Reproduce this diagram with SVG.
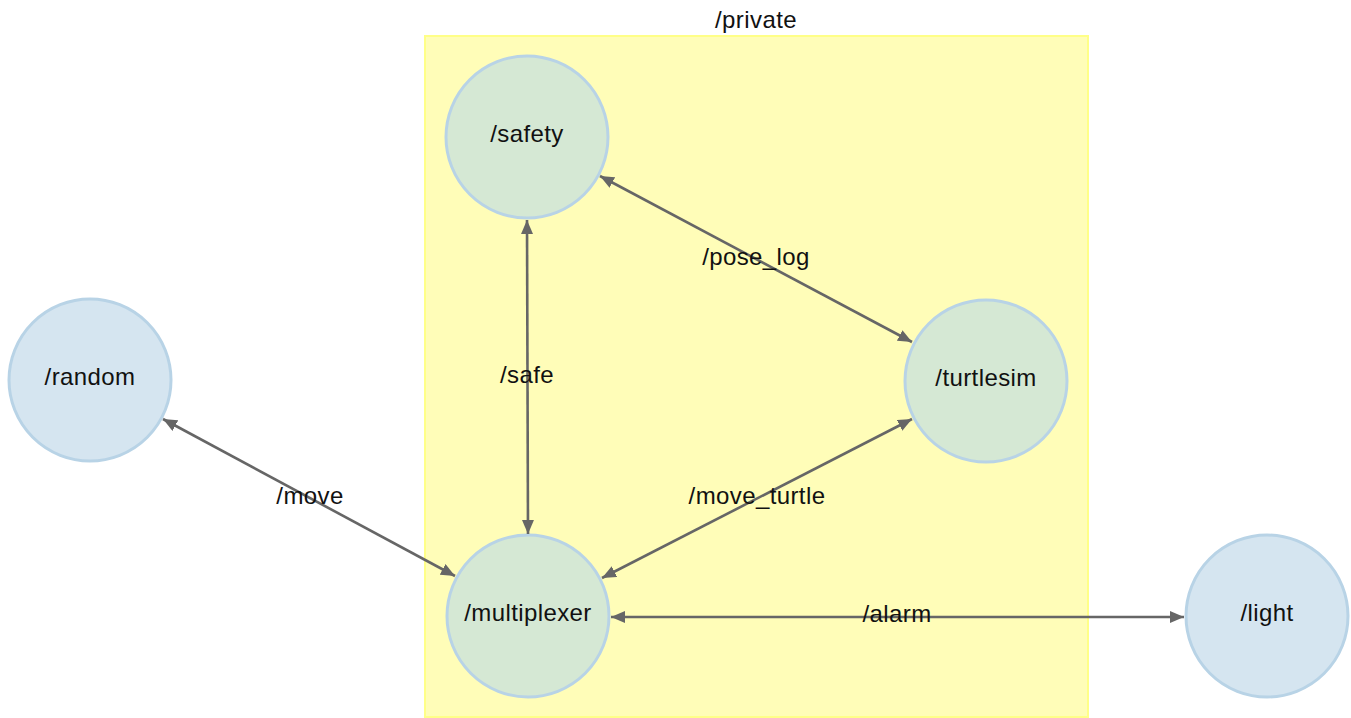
<svg xmlns="http://www.w3.org/2000/svg" width="1351" height="718" viewBox="0 0 1351 718">
  <style>
    .lbl { font-family: "Liberation Sans", Arial, sans-serif; font-size: 24px; letter-spacing: 0.4px; fill: #111; text-anchor: middle; dominant-baseline: central; }
    .node-in { fill: #d5e8d4; stroke: #b8d3e6; stroke-width: 3; }
    .node-out { fill: #d5e5f0; stroke: #b8d3e6; stroke-width: 3; }
    .edge { fill: none; stroke: #666; stroke-width: 2.6; marker-start: url(#arr); marker-end: url(#arr); }
  </style>
  <defs>
    <marker id="arr" viewBox="0 0 14 12" refX="14" refY="6" markerWidth="14" markerHeight="12" markerUnits="userSpaceOnUse" orient="auto-start-reverse">
      <path d="M0,0 L14,6 L0,12 Z" fill="#666"/>
    </marker>
  </defs>

  <rect width="1351" height="718" fill="#fff"/>

  <!-- namespace group -->
  <g id="private">
    <rect x="425" y="36" width="663" height="681" fill="#fffdb8" stroke="#ffff88" stroke-width="2"/>
    <text class="lbl" x="756" y="19">/private</text>
  </g>

  <!-- nodes -->
  <g id="safety">
    <circle class="node-in" cx="527" cy="137" r="81"/>
    <text class="lbl" x="527" y="133">/safety</text>
  </g>
  <g id="turtlesim">
    <circle class="node-in" cx="986" cy="381" r="81"/>
    <text class="lbl" x="986" y="377">/turtlesim</text>
  </g>
  <g id="multiplexer">
    <circle class="node-in" cx="528" cy="616" r="81"/>
    <text class="lbl" x="528" y="612">/multiplexer</text>
  </g>
  <g id="random">
    <circle class="node-out" cx="90" cy="380" r="81"/>
    <text class="lbl" x="90" y="376">/random</text>
  </g>
  <g id="light">
    <circle class="node-out" cx="1267" cy="616" r="81"/>
    <text class="lbl" x="1267" y="612">/light</text>
  </g>

  <!-- topic connectors -->
  <g id="connectors">
    <path class="edge" d="M600,176 L912,342"/>
    <path class="edge" d="M527,220 L528,534"/>
    <path class="edge" d="M163,419 L455,576"/>
    <path class="edge" d="M602,578 L912,419"/>
    <path class="edge" d="M611,617 L1184,617"/>
    <text class="lbl" x="756" y="256">/pose_log</text>
    <text class="lbl" x="527" y="374">/safe</text>
    <text class="lbl" x="310" y="495">/move</text>
    <text class="lbl" x="757" y="495">/move_turtle</text>
    <text class="lbl" x="897" y="613">/alarm</text>
  </g>
</svg>
